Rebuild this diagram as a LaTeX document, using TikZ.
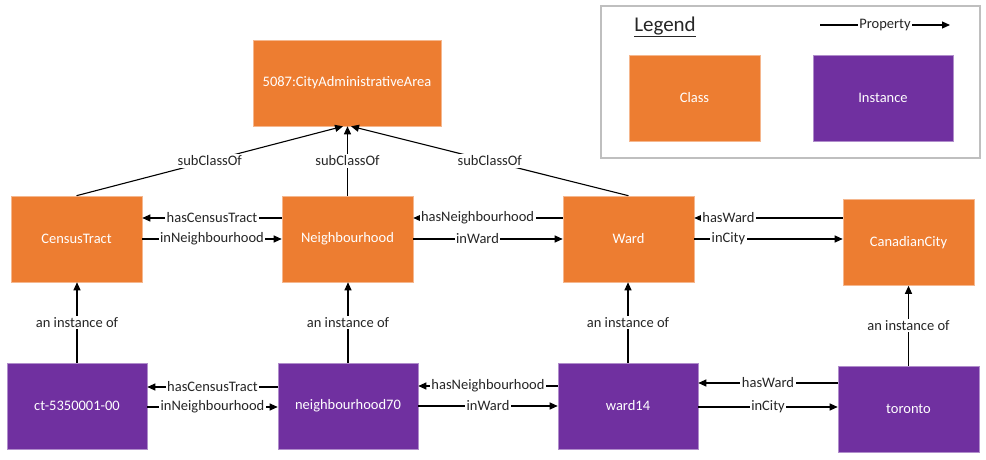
\documentclass[tikz,border=0pt]{standalone}
\usepackage{fontspec}
\setmainfont{Carlito}
\usetikzlibrary{arrows.meta}
\definecolor{corange}{HTML}{ED7D31}
\definecolor{cpurple}{HTML}{7030A0}
\definecolor{ctext}{HTML}{262626}
\definecolor{cframe}{HTML}{BFBFBF}
\begin{document}
\begin{tikzpicture}[x=1pt,y=-1pt,
  classbox/.style={rectangle, fill=corange, draw=corange!55!white, line width=0.6pt, text=white,
    minimum width=131pt, minimum height=86pt, inner sep=0pt, font=\fontsize{14.5}{17}\selectfont},
  instbox/.style={classbox, fill=cpurple, draw=cpurple!55!white, minimum width=140pt},
  rel/.style={-{Triangle[length=8pt,width=7pt]}, line width=1.1pt, draw=black},
  lbl/.style={fill=white, inner sep=1.5pt, text=ctext, font=\fontsize{14.5}{17}\selectfont}]
\path[use as bounding box] (0,0) rectangle (986,460);

% legend
\node[draw=cframe, line width=1.2pt, minimum width=379pt, minimum height=152pt, inner sep=0pt] (legend) at (790.5,82) {};
\node[font=\fontsize{21}{25}\selectfont, text=ctext] (legtitle) at (665,27) {\underline{Legend}};
\node[classbox] (lclass) at (694.5,98) {Class};
\node[instbox] (linst) at (883,98) {Instance};
\coordinate (pa) at (820,25);
\coordinate (pb) at (950,25);
\draw[rel] (pa) -- node[lbl]{Property} (pb);

% classes
\node[classbox, minimum width=188pt] (top) at (347,83) {5087:CityAdministrativeArea};
\node[classbox] (ct) at (76.5,239) {CensusTract};
\node[classbox] (nb) at (347.5,239) {Neighbourhood};
\node[classbox] (wd) at (628.5,239) {Ward};
\node[classbox] (cc) at (908.5,242.5) {CanadianCity};

% instances
\node[instbox] (ict) at (77,406) {ct-5350001-00};
\node[instbox] (inb) at (348,406) {neighbourhood70};
\node[instbox] (iwd) at (628,406) {ward14};
\node[instbox, minimum width=141pt] (itor) at (908.5,409) {toronto};

% subClassOf
\draw[rel] (ct.north) -- node[lbl]{subClassOf} ([xshift=-4pt]top.south);
\draw[rel] (nb.north) -- node[lbl]{subClassOf} (nb.north |- top.south);
\draw[rel] (wd.north) -- node[lbl]{subClassOf} ([xshift=4pt]top.south);

% class-level properties
\draw[rel] (nb.west |- 0,218) -- node[lbl]{hasCensusTract} (ct.east |- 0,218);
\draw[rel] (ct.east |- 0,239) -- node[lbl]{inNeighbourhood} (nb.west |- 0,239);
\draw[rel] (wd.west |- 0,218) -- node[lbl, pos=0.57]{hasNeighbourhood} (nb.east |- 0,218);
\draw[rel] (nb.east |- 0,239) -- node[lbl, pos=0.43]{inWard} (wd.west |- 0,239);
\draw[rel] (cc.west |- 0,218) -- node[lbl, pos=0.77]{hasWard} (wd.east |- 0,218);
\draw[rel] (wd.east |- 0,239) -- node[lbl, pos=0.23]{inCity} (cc.west |- 0,239);

% instance-level properties
\draw[rel] (inb.west |- 0,387) -- node[lbl]{hasCensusTract} (ict.east |- 0,387);
\draw[rel] (ict.east |- 0,407) -- node[lbl]{inNeighbourhood} (inb.west |- 0,407);
\draw[rel] (iwd.west |- 0,386) -- node[lbl]{hasNeighbourhood} (inb.east |- 0,386);
\draw[rel] (inb.east |- 0,406) -- node[lbl]{inWard} (iwd.west |- 0,406);
\draw[rel] (itor.west |- 0,383) -- node[lbl]{hasWard} (iwd.east |- 0,383);
\draw[rel] (iwd.east |- 0,407) -- node[lbl]{inCity} (itor.west |- 0,407);

% an instance of
\draw[rel] (ict.north) -- node[lbl]{an instance of} (ict.north |- ct.south);
\draw[rel] (inb.north) -- node[lbl]{an instance of} (inb.north |- nb.south);
\draw[rel] (iwd.north) -- node[lbl]{an instance of} (iwd.north |- wd.south);
\draw[rel] (itor.north) -- node[lbl]{an instance of} (itor.north |- cc.south);
\end{tikzpicture}
\end{document}
